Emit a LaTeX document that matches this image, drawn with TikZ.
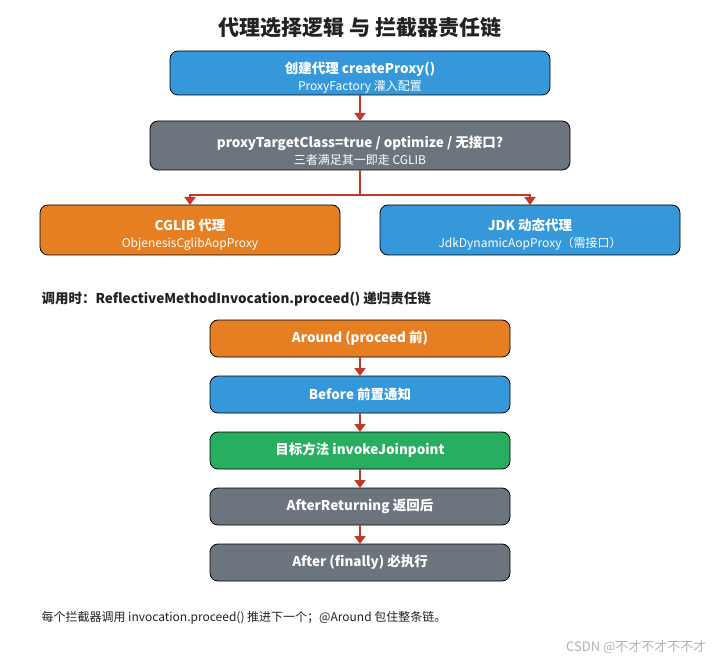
\documentclass[tikz,border=0pt]{standalone}
\usepackage{fontspec}
\setmainfont{Noto Sans CJK SC}
\usetikzlibrary{arrows.meta}
\definecolor{cajaazul}{HTML}{3498DB}
\definecolor{cajanaranja}{HTML}{E67E22}
\definecolor{cajagris}{HTML}{6C757D}
\definecolor{cajaverde}{HTML}{27AE60}
\definecolor{flecharoja}{HTML}{C0392B}
\definecolor{textooscuro}{HTML}{222222}
\newcommand{\subtexto}[1]{{\mdseries\fontsize{12}{14}\selectfont #1}}
\newcommand{\arriba}{\rule{0pt}{21pt}}
\begin{document}
\begin{tikzpicture}[x=1pt,y=-1pt,
                caja/.style={draw=black,line width=0.8pt,rounded corners=8pt,text=white,align=center,
                  inner sep=0pt,outer sep=0pt,font=\bfseries\fontsize{13.5}{18}\selectfont},
                paso/.style={caja,minimum width=300pt,minimum height=37pt},
                flecha/.style={flecharoja,line width=1.8pt,-{Triangle[length=8pt,width=11pt]}}]
                \useasboundingbox (0,0) rectangle (720,660);
                \fill[white] (0,0) rectangle (720,660);
                \node[textooscuro,font=\bfseries\fontsize{21}{24}\selectfont] (titulo) at (360,28) {代理选择逻辑 与 拦截器责任链}; % titulo
                \node[caja,fill=cajaazul,minimum width=380pt,minimum height=44pt] (crear) at (360,73)
                  {\arriba 创建代理 createProxy()\\[-1pt]\subtexto{ProxyFactory 灌入配置}};
                \node[caja,fill=cajagris,minimum width=420pt,minimum height=49pt] (decide) at (360,145.5)
                  {\arriba proxyTargetClass=true / optimize / 无接口?\\[-1pt]\subtexto{三者满足其一即走 CGLIB}};
                \node[caja,fill=cajanaranja,minimum width=300pt,minimum height=50pt] (cglib) at (190,230)
                  {\arriba CGLIB 代理\\[-1pt]\subtexto{ObjenesisCglibAopProxy}};
                \node[caja,fill=cajaazul,minimum width=300pt,minimum height=50pt] (jdk) at (530,230)
                  {\arriba JDK 动态代理\\[-1pt]\subtexto{JdkDynamicAopProxy（需接口）}};
                \draw[flecha] (crear) -- (decide);
                \coordinate (rama) at (360,195); % bifurcacion
                \draw[flecha] (decide.south) -- (rama) -| (cglib.north);
                \draw[flecha] (rama) -| (jdk.north);
                % cadena de interceptores
                \node[anchor=west,textooscuro,font=\bfseries\fontsize{13.5}{16}\selectfont] (llamada) at (38,299)
                  {调用时：ReflectiveMethodInvocation.proceed() 递归责任链};
                \node[paso,fill=cajanaranja] (around) at (360,338.5) {Around (proceed 前)};
                \node[paso,fill=cajaazul] (before) at (360,394.5) {Before 前置通知};
                \node[paso,fill=cajaverde] (target) at (360,450.5) {目标方法 invokeJoinpoint};
                \node[paso,fill=cajagris] (afterret) at (360,506.5) {AfterReturning 返回后};
                \node[paso,fill=cajagris] (after) at (360,562.5) {After (finally) 必执行};
                \foreach \a/\b in {around/before,before/target,target/afterret,afterret/after}
                \draw[flecha] (\a) -- (\b);
                \node[anchor=west,textooscuro,font=\fontsize{12}{14}\selectfont] (nota) at (38,618)
                  {每个拦截器调用 invocation.proceed() 推进下一个；@Around 包住整条链。};
                \node[anchor=east,black!30,font=\fontsize{13}{15}\selectfont] (marca) at (710,647) {CSDN @不才不才不不才};
            \end{tikzpicture}
\end{document}
